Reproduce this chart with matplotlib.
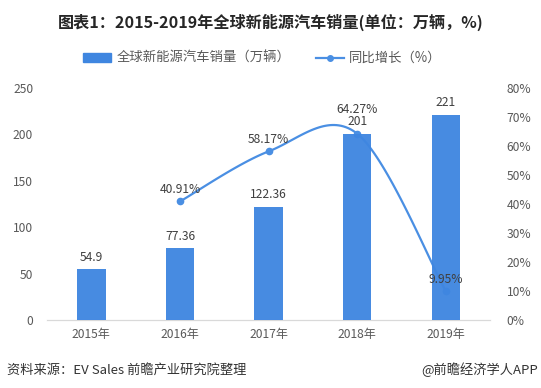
import numpy as np
import matplotlib
matplotlib.use("Agg")
import matplotlib.pyplot as plt
from matplotlib.patches import Patch
from matplotlib.lines import Line2D

plt.rcParams['font.family'] = ['Noto Sans CJK SC', 'DejaVu Sans']

years = ["2015年", "2016年", "2017年", "2018年", "2019年"]
sales = [54.9, 77.36, 122.36, 201, 221]
growth_idx = [1, 2, 3, 4]
growth = [40.91, 58.17, 64.27, 9.95]

blue = "#3F86E0"
line_blue = "#4A8FE3"
gray = "#595959"


def smooth(xs, ys, n=40):
    # bezier curve through the points, like a spreadsheet "smooth line"
    px = [xs[0]] + list(xs) + [xs[-1]]
    py = [ys[0]] + list(ys) + [ys[-1]]
    outx, outy = [], []
    t = np.linspace(0, 1, n)
    for i in range(1, len(px) - 2):
        p0 = np.array([px[i], py[i]])
        p3 = np.array([px[i + 1], py[i + 1]])
        c1 = p0 + (np.array([px[i + 1], py[i + 1]]) - np.array([px[i - 1], py[i - 1]])) / 6
        c2 = p3 - (np.array([px[i + 2], py[i + 2]]) - np.array([px[i], py[i]])) / 6
        b = ((1 - t) ** 3)[:, None] * p0 + (3 * (1 - t) ** 2 * t)[:, None] * c1 \
            + (3 * (1 - t) * t ** 2)[:, None] * c2 + (t ** 3)[:, None] * p3
        outx.extend(b[:, 0])
        outy.extend(b[:, 1])
    return outx, outy


fig = plt.figure(figsize=(5.41, 3.88), dpi=100)
ax = fig.add_axes([0.087, 0.175, 0.819, 0.598])
ax2 = ax.twinx()

x = np.arange(len(years))
ax.bar(x, sales, width=0.32, color=blue, zorder=3, alpha=0.96)
for i, v in enumerate(sales):
    ax.annotate(f"{v:g}", (i, v), xytext=(0, 4), textcoords="offset points",
                ha="center", va="bottom", fontsize=8.7, color="#404040", zorder=5)

sx, sy = smooth(growth_idx, growth)
ax2.plot(sx, sy, color=line_blue, lw=1.6)
ax2.plot(growth_idx, growth, "o", color=line_blue, ms=4.5)
for i, v in zip(growth_idx, growth):
    dy = 13 if i == 3 else 4
    ax.annotate(f"{v:.2f}%", (i, v), xycoords=ax2.transData, xytext=(0, dy),
                textcoords="offset points", ha="center", va="bottom",
                fontsize=8.7, color="#404040", zorder=6)

ax.set_zorder(ax2.get_zorder() + 1)
ax.patch.set_visible(False)

ax.set_xlim(-0.5, 4.5)
ax.set_ylim(0, 250)
ax.set_yticks(range(0, 251, 50))
ax2.set_ylim(0, 80)
ax2.set_yticks(range(0, 81, 10))
ax2.set_yticklabels([f"{v}%" for v in range(0, 81, 10)])
ax.set_xticks(x)
ax.set_xticklabels(years)

for a in (ax, ax2):
    for s in ("top", "left", "right"):
        a.spines[s].set_visible(False)
    a.spines["bottom"].set_color("#D9D9D9")
    a.tick_params(length=0, labelsize=8.7, labelcolor=gray)
ax.tick_params(axis="x", pad=6)
ax.tick_params(axis="y", pad=10)
ax2.tick_params(axis="y", pad=12)

fig.text(0.5, 0.943, "图表1：2015-2019年全球新能源汽车销量(单位：万辆，%)",
         ha="center", va="center", fontsize=11.6, fontweight="bold", color="#262626")

handles = [Patch(color=blue),
           Line2D([0], [0], color=line_blue, lw=1.6, marker="o", ms=4)]
fig.legend(handles, ["全球新能源汽车销量（万辆）", "同比增长（%）"],
           loc="center", bbox_to_anchor=(0.485, 0.85), ncol=2, frameon=False,
           fontsize=9.6, labelcolor=gray, handlelength=2.1, handleheight=0.7,
           columnspacing=1.9, handletextpad=0.4)

fig.text(0.013, 0.047, "资料来源：EV Sales 前瞻产业研究院整理", ha="left", va="center",
         fontsize=9.5, color="#333333")
fig.text(0.995, 0.047, "@前瞻经济学人APP", ha="right", va="center",
         fontsize=9.5, color="#333333")

fig.savefig("out.png", dpi=100)
